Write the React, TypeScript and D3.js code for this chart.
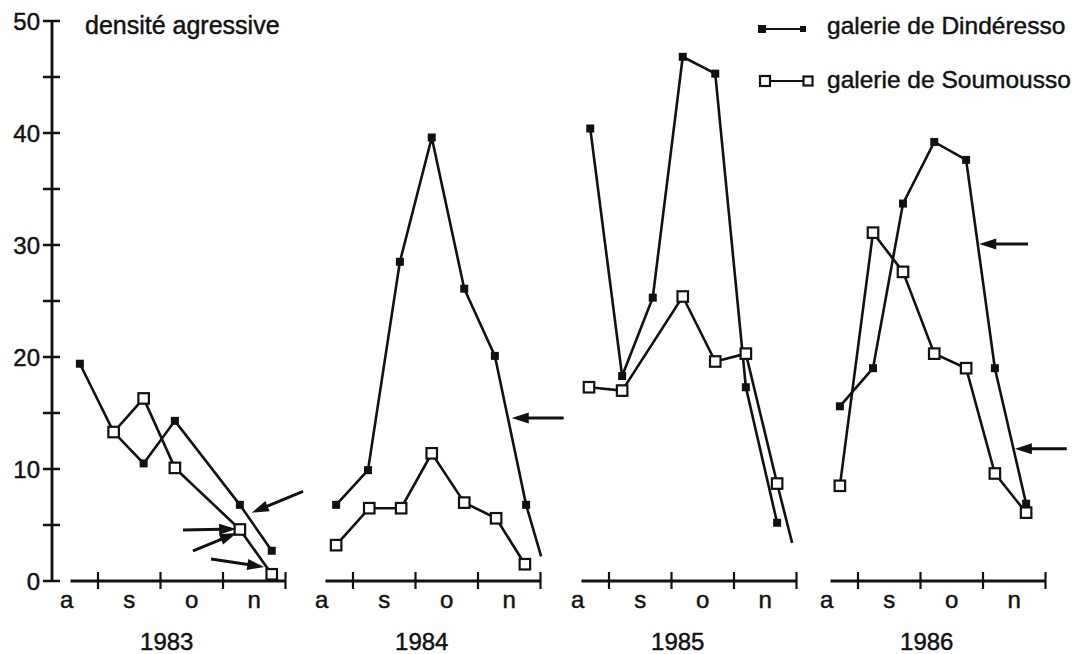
import React from 'react';
import * as d3 from 'd3';

// ---- data ----
const years = ['1983', '1984', '1985', '1986'];
const monthLabels = ['a', 's', 'o', 'n'];
const yTickValues = [0, 5, 10, 15, 20, 25, 30, 35, 40, 45, 50];
const yLabelValues = [0, 10, 20, 30, 40, 50];

// sampling dates in months since 1 August, per year
const dindMonths = [
  [0.71, 1.25, 1.73, 2.23, 3.27, 3.78],
  [0.73, 1.24, 1.75, 2.26, 2.78, 3.27, 3.77],
  [0.70, 1.21, 1.70, 2.18, 2.70, 3.19, 3.69],
  [0.71, 1.24, 1.72, 2.22, 2.73, 3.19, 3.69],
];
const dindValues = [
  [19.4, 13.3, 10.5, 14.3, 6.8, 2.7],
  [6.8, 9.9, 28.5, 39.6, 26.1, 20.1, 6.8],
  [40.4, 18.3, 25.3, 46.8, 45.3, 17.3, 5.2],
  [15.6, 19.0, 33.7, 39.2, 37.6, 19.0, 6.9],
];
const soumMonths = [
  [1.25, 1.73, 2.23, 3.27, 3.78],
  [0.73, 1.26, 1.77, 2.26, 2.78, 3.29, 3.75],
  [0.68, 1.21, 2.18, 2.70, 3.19, 3.69],
  [0.71, 1.24, 1.72, 2.22, 2.73, 3.19, 3.69],
];
const soumValues = [
  [13.3, 16.3, 10.1, 4.6, 0.6],
  [3.2, 6.5, 6.5, 11.4, 7.0, 5.6, 1.5],
  [17.3, 17.0, 25.4, 19.6, 20.3, 8.7],
  [8.5, 31.1, 27.6, 20.3, 19.0, 9.6, 6.1],
];
// line continuations drawn without a marker
const dindTailMonth = [null, 4.01, null, null];
const dindTailValue = [null, 2.2, null, null];
const soumTailMonth = [null, null, 3.93, null];
const soumTailValue = [null, null, 3.4, null];

// annotation arrows: panel, tail (month, value), tip (month, value)
const arrowPanel = [0, 0, 0, 0, 1, 3, 3];
const arrowFromM = [4.28, 2.36, 2.52, 2.81, 4.37, 3.72, 4.34];
const arrowFromV = [8.0, 4.55, 2.68, 1.96, 14.55, 30.1, 11.8];
const arrowToM = [3.46, 3.21, 3.22, 3.66, 3.54, 2.94, 3.51];
const arrowToV = [6.1, 4.64, 4.29, 1.25, 14.55, 30.1, 11.8];

const titleText = 'densité agressive';
const legendLabels = ['galerie de Dindéresso', 'galerie de Soumousso'];

// ---- layout ----
const W = 1079;
const H = 654;
const FONT = '"Liberation Sans", Arial, Helvetica, sans-serif';
const monthW = 62.5;
const panelSepStart = [98, 353, 609, 858]; // pixel position of 1 September per panel
const axisStartMonth = 0.56;

export default function App() {
  const y = d3.scaleLinear().domain([0, 50]).range([581, 21]);
  const xFor = (i: number) => {
    const s = panelSepStart[i];
    return d3.scaleLinear().domain([0, 4]).range([s - monthW, s + 3 * monthW]);
  };
  const yAxisX = 52;

  const line = d3
    .line<[number, number]>()
    .x((d) => d[0])
    .y((d) => d[1]);

  const ink = '#111';
  const textStroke = { stroke: ink, strokeWidth: 0.45 };

  const arrow = (x1: number, y1: number, x2: number, y2: number, key: string) => {
    const ang = Math.atan2(y2 - y1, x2 - x1);
    const L = 17;
    const w = 5.5;
    const bx = x2 - L * Math.cos(ang);
    const by = y2 - L * Math.sin(ang);
    const px = -Math.sin(ang) * w;
    const py = Math.cos(ang) * w;
    return (
      <g key={key}>
        <line x1={x1} y1={y1} x2={bx + 2 * Math.cos(ang)} y2={by + 2 * Math.sin(ang)} stroke={ink} strokeWidth={3} />
        <polygon
          points={`${x2},${y2} ${bx + px},${by + py} ${bx - px},${by - py}`}
          fill={ink}
        />
      </g>
    );
  };

  const filledSq = (cx: number, cy: number, key: string, s = 8) => (
    <rect key={key} x={cx - s / 2} y={cy - s / 2} width={s} height={s} fill={ink} />
  );
  const openSq = (cx: number, cy: number, key: string, s = 10.5) => (
    <rect
      key={key}
      x={cx - s / 2}
      y={cy - s / 2}
      width={s}
      height={s}
      fill="#fff"
      stroke={ink}
      strokeWidth={2.2}
    />
  );

  return (
    <div style={{ position: 'absolute', left: 0, top: 0 }}>
      <svg width={W} height={H} style={{ display: 'block', background: '#fff' }} fontFamily={FONT}>
        <rect x={0} y={0} width={W} height={H} fill="#fff" />
        {/* y axis */}
        <line x1={yAxisX} y1={y(50)} x2={yAxisX} y2={y(0)} stroke={ink} strokeWidth={2.8} />
        {yTickValues.map((v) => (
          <line key={'yt' + v} x1={yAxisX - 9} x2={yAxisX + 8} y1={y(v)} y2={y(v)} stroke={ink} strokeWidth={2.5} />
        ))}
        {yLabelValues.map((v) => (
          <text key={'yl' + v} x={40} y={y(v)} dy="0.36em" textAnchor="end" fontSize={24} fill={ink} {...textStroke}>
            {v}
          </text>
        ))}
        <text x={85} y={34} fontSize={25} fill={ink} {...textStroke}>
          {titleText}
        </text>

        {/* panels */}
        {years.map((yr, i) => {
          const x = xFor(i);
          const dPts: [number, number][] = dindMonths[i].map((m, j) => [x(m), y(dindValues[i][j])]);
          const sPts: [number, number][] = soumMonths[i].map((m, j) => [x(m), y(soumValues[i][j])]);
          const dLine = dPts.slice();
          if (dindTailMonth[i] !== null) dLine.push([x(dindTailMonth[i] as number), y(dindTailValue[i] as number)]);
          const sLine = sPts.slice();
          if (soumTailMonth[i] !== null) sLine.push([x(soumTailMonth[i] as number), y(soumTailValue[i] as number)]);
          return (
            <g key={yr}>
              <line x1={x(axisStartMonth)} x2={x(4)} y1={y(0)} y2={y(0)} stroke={ink} strokeWidth={2.8} />
              {[1, 2, 3, 4].map((m) => (
                <line key={'xt' + m} x1={x(m)} x2={x(m)} y1={y(0) - 9} y2={y(0) + 8} stroke={ink} strokeWidth={2.2} />
              ))}
              {monthLabels.map((lab, k) => (
                <text key={'ml' + k} x={x(k + 0.5)} y={608} textAnchor="middle" fontSize={24} fill={ink} {...textStroke}>
                  {lab}
                </text>
              ))}
              <text x={x(2.1)} y={650} textAnchor="middle" fontSize={24} fill={ink} {...textStroke}>
                {yr}
              </text>
              <path d={line(dLine) || ''} fill="none" stroke={ink} strokeWidth={2.6} />
              <path d={line(sLine) || ''} fill="none" stroke={ink} strokeWidth={2.6} />
              {dPts.map((p, j) => filledSq(p[0], p[1], 'd' + j))}
              {sPts.map((p, j) => openSq(p[0], p[1], 's' + j))}
            </g>
          );
        })}

        {/* arrows */}
        {arrowPanel.map((p, k) => {
          const x = xFor(p);
          return arrow(x(arrowFromM[k]), y(arrowFromV[k]), x(arrowToM[k]), y(arrowToV[k]), 'a' + k);
        })}

        {/* legend */}
        <line x1={762} x2={803} y1={29} y2={29} stroke={ink} strokeWidth={2.2} />
        {filledSq(762, 29, 'lg1', 8)}
        {filledSq(803, 29, 'lg2', 6)}
        <text x={827} y={34} fontSize={24.5} fill={ink} {...textStroke}>
          {legendLabels[0]}
        </text>
        <line x1={765} x2={808} y1={81} y2={81} stroke={ink} strokeWidth={2.2} />
        {openSq(765, 81, 'lg3', 10)}
        {openSq(808, 81, 'lg4', 9)}
        <text x={827} y={88} fontSize={24.5} fill={ink} {...textStroke}>
          {legendLabels[1]}
        </text>
      </svg>
    </div>
  );
}
